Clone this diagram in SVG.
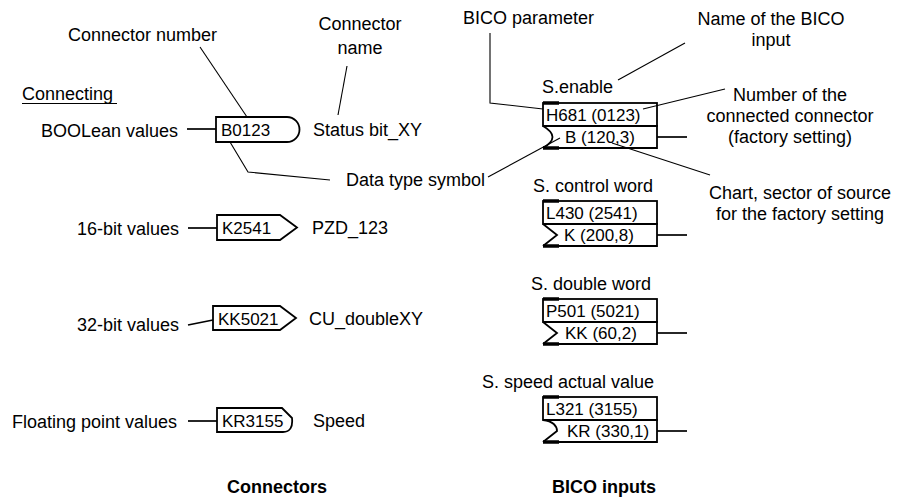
<svg xmlns="http://www.w3.org/2000/svg" width="900" height="500" viewBox="0 0 900 500">
  <style>
    text { font-family: "Liberation Sans", Arial, sans-serif; font-size: 18px; fill: #000; }
    .box { font-size: 17px; }
    .title { font-weight: bold; }
    .shape { fill: #fff; stroke: #000; stroke-width: 1.8; stroke-linejoin: miter; }
    .edge { fill: none; stroke: #000; stroke-width: 1.8; }
    .heavy { fill: none; stroke: #000; stroke-width: 3.4; }
    .lead { fill: none; stroke: #000; stroke-width: 1.1; }
    .wire { fill: none; stroke: #000; stroke-width: 1.7; }
  </style>

  <!-- Section heading and column titles -->
  <text x="22" y="100">Connecting</text>
  <line x1="22" y1="103.5" x2="117" y2="103.5" stroke="#000" stroke-width="1.2"/>
  <text class="title" x="227" y="493">Connectors</text>
  <text class="title" x="552" y="493">BICO inputs</text>

  <!-- Annotation texts -->
  <text x="68" y="41">Connector number</text>
  <text x="360" y="30" text-anchor="middle">Connector</text>
  <text x="360" y="54" text-anchor="middle">name</text>
  <text x="346" y="186">Data type symbol</text>
  <text x="463" y="24">BICO parameter</text>
  <text x="771" y="25" text-anchor="middle">Name of the BICO</text>
  <text x="771" y="46" text-anchor="middle">input</text>
  <text x="790" y="101" text-anchor="middle">Number of the</text>
  <text x="790" y="122" text-anchor="middle">connected connector</text>
  <text x="790" y="143" text-anchor="middle">(factory setting)</text>
  <text x="800" y="199" text-anchor="middle">Chart, sector of source</text>
  <text x="800" y="220" text-anchor="middle">for the factory setting</text>

  <!-- Connectors (outputs) -->
  <g id="conn-bool">
    <text x="41" y="137">BOOLean values</text>
    <path class="shape" d="M216,117 H287 A12.5,12.5 0 0 1 287,142 H216 Z"/>
    <text class="box" x="221" y="136">B0123</text>
    <text x="313" y="136">Status bit_XY</text>
  </g>
  <g id="conn-16bit">
    <text x="77" y="235">16-bit values</text>
    <path class="shape" d="M217,215 H280 L297,227.5 L280,240 H217 Z"/>
    <text class="box" x="222" y="234">K2541</text>
    <text x="312" y="234">PZD_123</text>
  </g>
  <g id="conn-32bit">
    <text x="77" y="331">32-bit values</text>
    <path class="shape" d="M213,306 H280 L296,318 L280,330 H213 Z"/>
    <text class="box" x="218" y="325">KK5021</text>
    <text x="309" y="325">CU_doubleXY</text>
  </g>
  <g id="conn-float">
    <text x="12" y="428">Floating point values</text>
    <path class="shape" d="M217,408 H282 L292,418 C293,427 290,432 283,432 H217 Z"/>
    <text class="box" x="222" y="427">KR3155</text>
    <text x="313" y="427">Speed</text>
  </g>

  <!-- BICO inputs -->
  <g id="input-enable">
    <text x="542" y="93">S.enable</text>
    <rect class="shape" x="543" y="103" width="114" height="23"/>
    <path class="edge" d="M543,126 H657 V148 H543 M543,126 Q562,137 543,148"/>
    <path class="heavy" d="M543,103 H559 M543,148 H559"/>
    <text class="box" x="546" y="121">H681 (0123)</text>
    <text class="box" x="565" y="143">B (120,3)</text>
  </g>
  <g id="input-control">
    <text x="533" y="192">S. control word</text>
    <rect class="shape" x="543" y="201" width="114" height="23"/>
    <path class="edge" d="M543,224 H657 V246 H543 M543,224 L557,235 L543,246"/>
    <path class="heavy" d="M543,201 H559 M543,246 H559"/>
    <text class="box" x="546" y="219">L430 (2541)</text>
    <text class="box" x="564" y="241">K (200,8)</text>
  </g>
  <g id="input-double">
    <text x="531" y="290">S. double word</text>
    <rect class="shape" x="543" y="299" width="114" height="23"/>
    <path class="edge" d="M543,322 H657 V344 H543 M543,322 L557,333 L543,344"/>
    <path class="heavy" d="M543,299 H559 M543,344 H559"/>
    <text class="box" x="546" y="317">P501 (5021)</text>
    <text class="box" x="565" y="339">KK (60,2)</text>
  </g>
  <g id="input-speed">
    <text x="482" y="388">S. speed actual value</text>
    <rect class="shape" x="543" y="397" width="114" height="23"/>
    <path class="edge" d="M543,420 H657 V442 H543 M543,420 C553,421 557,426 557,431 L543,442"/>
    <path class="heavy" d="M543,397 H559 M543,442 H559"/>
    <text class="box" x="546" y="415">L321 (3155)</text>
    <text class="box" x="567" y="437">KR (330,1)</text>
  </g>

  <!-- Connecting lines and leaders -->
  <g id="connectors">
    <path class="wire" d="M187,129 H216"/>
    <path class="wire" d="M188,228 H217"/>
    <path class="wire" d="M188,325 L213,320"/>
    <path class="wire" d="M188,421 H217"/>
    <path class="wire" d="M657,137 H687"/>
    <path class="wire" d="M657,235 H687"/>
    <path class="wire" d="M657,333 H687"/>
    <path class="wire" d="M657,431 H687"/>
    <path class="lead" d="M200,47 L247,117"/>
    <path class="lead" d="M347,66 L338,115"/>
    <path class="lead" d="M230,142 L248,172 L330,180"/>
    <path class="lead" d="M488,177 L560,138"/>
    <path class="lead" d="M490,33 V103 L543,109"/>
    <path class="lead" d="M685,43 L618,80"/>
    <path class="lead" d="M643,109 L725,89"/>
    <path class="lead" d="M612,143 L710,175"/>
  </g>
</svg>
